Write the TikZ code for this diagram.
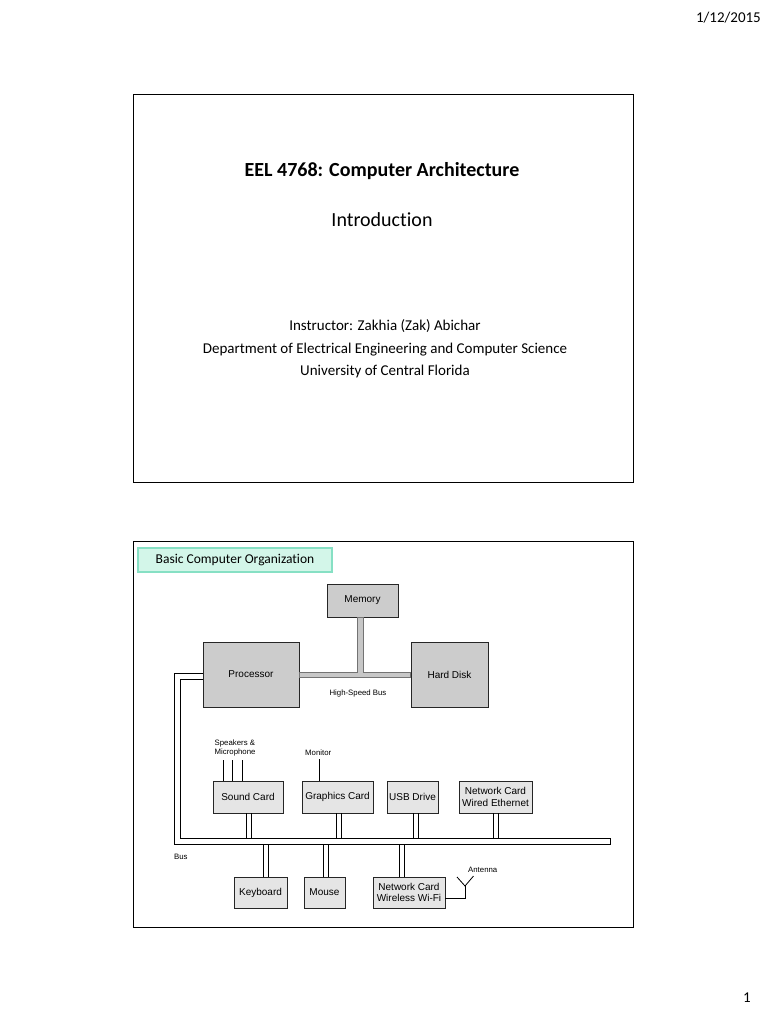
\documentclass[tikz,border=0pt]{standalone}
\usepackage{fontspec}
\setmainfont{Carlito}[Ligatures=CommonOff]
\newfontfamily\arialf{Liberation Sans}
\definecolor{mintfill}{HTML}{D3F6E9}
\definecolor{mintedge}{HTML}{86E0C4}
\begin{document}
\begin{tikzpicture}[x=1pt,y=-1pt,
  frame/.style={draw=black, line width=1pt},
  bigbox/.style={draw=black!85, line width=0.9pt, fill=black!20, inner sep=0pt, align=center,
    font=\arialf\fontsize{10}{11.5}\selectfont},
  smallbox/.style={bigbox, fill=black!10},
  lbl/.style={font=\arialf\fontsize{7.8}{9.4}\selectfont, inner sep=0pt, align=left},
  wire/.style={draw=black, line width=0.8pt},
  busline/.style={draw=black, fill=white, line width=0.8pt},
  hsbus/.style={draw=black!55, fill=black!22, line width=0.7pt}]
\useasboundingbox (0,0) rectangle (768,1024);
\fill[white] (0,0) rectangle (768,1024);

% page header / footer
\node[font=\fontsize{15}{18}\selectfont, anchor=east, inner sep=0pt] (date) at (761,18) {1/12/2015};
\node[font=\fontsize{15}{18}\selectfont, inner sep=0pt] (pnum) at (747,998) {1};

% slide 1
\draw[frame] (133,95) rectangle (633,482);
\node[font=\bfseries\fontsize{20}{24}\selectfont, inner sep=0pt] (t1) at (382,171) {EEL 4768: Computer Architecture};
\node[font=\fontsize{20}{24}\selectfont, inner sep=0pt] (t2) at (382,220) {Introduction};
\node[font=\fontsize{15}{22.5}\selectfont, inner sep=0pt, align=center] (t3) at (385,349)
  {Instructor: Zakhia (Zak) Abichar\\Department of Electrical Engineering and Computer Science\\University of Central Florida};

% slide 2
\draw[frame] (133,541) rectangle (633,927);
\node[draw=mintedge, fill=mintfill, line width=1.2pt, minimum width=194pt, minimum height=24pt,
  inner sep=0pt, font=\fontsize{13.5}{16}\selectfont] (ttl) at (235,560) {Basic Computer Organization};

\node[bigbox, minimum width=71pt, minimum height=33pt] (mem) at (362.5,600.5) {Memory};
\node[bigbox, minimum width=96pt, minimum height=65pt] (proc) at (251,674.5) {Processor};
\node[bigbox, minimum width=77pt, minimum height=65pt] (hdd) at (449.5,674.5) {Hard Disk};

\node[smallbox, minimum width=70pt, minimum height=32pt] (snd) at (248,797) {Sound Card};
\node[smallbox, minimum width=71pt, minimum height=32pt] (gfx) at (337.5,797) {Graphics Card};
\node[smallbox, minimum width=51pt, minimum height=32pt] (usb) at (412.5,797) {USB Drive};
\node[smallbox, minimum width=73pt, minimum height=32pt] (eth) at (495.5,797) {Network Card\\Wired Ethernet};
\node[smallbox, minimum width=53pt, minimum height=31pt] (kbd) at (260.5,892.5) {Keyboard};
\node[smallbox, minimum width=41pt, minimum height=31pt] (mouse) at (324.5,892.5) {Mouse};
\node[smallbox, minimum width=72pt, minimum height=31pt] (wifi) at (409,892.5) {Network Card\\Wireless Wi-Fi};

% high-speed bus
\coordinate (hb1) at (0,672);
\coordinate (hb2) at (0,677);
\draw[hsbus] (proc.east |- hb1) -- ([xshift=-5.5pt]mem.south |- hb1) -- ([xshift=-5.5pt]mem.south)
  -- ([xshift=0.5pt]mem.south) -- ([xshift=0.5pt]mem.south |- hb1) -- (hdd.west |- hb1)
  -- (hdd.west |- hb2) -- (proc.east |- hb2) -- cycle;
\node[lbl] (hsl) at (358,693) {High-Speed Bus};

% system bus
\coordinate (ly1) at (0,673);
\coordinate (ly2) at (0,679);
\coordinate (bt) at (0,838.5);
\coordinate (bb) at (0,844);
\coordinate (bend) at (610,0);
\coordinate (bx1) at (174,0);
\coordinate (bx2) at (180,0);
\draw[busline] (proc.west |- ly1) -- (bx1 |- ly1) -- (bx1 |- bb) -- (bend |- bb) -- (bend |- bt)
  -- (bx2 |- bt) -- (bx2 |- ly2) -- (proc.west |- ly2);
\node[lbl, anchor=west] (busl) at (174,857) {Bus};

% connectors from upper cards to bus
\foreach \n/\d in {snd/1, gfx/1.5, usb/3.5, eth/0}{
  \draw[wire] ([xshift=\d pt-2.5pt]\n.south) -- ([xshift=\d pt-2.5pt]\n.south |- bt)
              ([xshift=\d pt+2.5pt]\n.south) -- ([xshift=\d pt+2.5pt]\n.south |- bt);
}
% connectors from bus to lower devices
\foreach \n/\d in {kbd/5, mouse/1, wifi/-7.5}{
  \draw[wire] ([xshift=\d pt-2.5pt]\n.north) -- ([xshift=\d pt-2.5pt]\n.north |- bb)
              ([xshift=\d pt+2.5pt]\n.north) -- ([xshift=\d pt+2.5pt]\n.north |- bb);
}

% speakers & microphone
\foreach \x in {223,232.5,242}{
  \coordinate (spk) at (\x,760);
  \draw[wire] (spk) -- (snd.north -| spk);
}
\node[lbl, anchor=west] (spl) at (214.5,748) {Speakers \&\\Microphone};

% monitor
\coordinate (mon) at (319,759);
\draw[wire] (mon) -- (gfx.north -| mon);
\node[lbl, anchor=west] (monl) at (305,753) {Monitor};

% antenna
\coordinate (ant) at (465,886);
\coordinate (aw) at ([yshift=-5.5pt]wifi.east);
\coordinate (al) at (457,877);
\coordinate (ar) at (473.5,876);
\draw[wire] (aw) -- (ant |- aw) -- (ant);
\draw[wire] (al) -- (ant) -- (ar);
\node[lbl, anchor=west] (antl) at (468,870) {Antenna};
\end{tikzpicture}
\end{document}
